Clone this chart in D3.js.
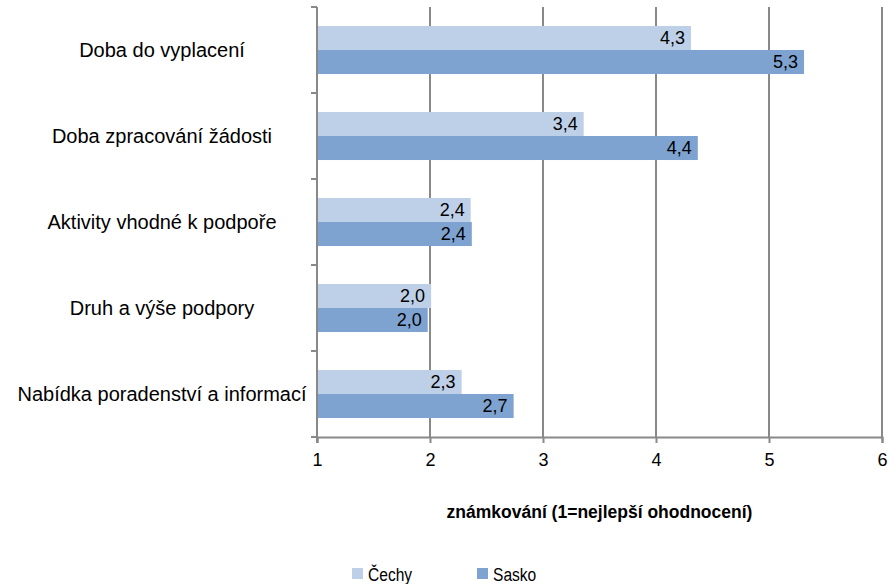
<!DOCTYPE html>
<html>
<head>
<meta charset="utf-8">
<script src="https://cdn.jsdelivr.net/npm/d3@7"></script>
<style>
  body { margin: 0; background: #fff; }
  svg text { font-family: "Liberation Sans", Arial, sans-serif; fill: #000; }
</style>
</head>
<body>
<div class="container"></div>
<script>
// data
var categories = ["Doba do vyplacení", "Doba zpracování žádosti", "Aktivity vhodné k podpoře",
                  "Druh a výše podpory", "Nabídka poradenství a informací"];
var cechy = [4.31, 3.36, 2.36, 2.01, 2.28];
var sasko = [5.31, 4.37, 2.37, 1.98, 2.74];
var seriesNames = ["Čechy", "Sasko"];
var xTicks = [1, 2, 3, 4, 5, 6];
var axisTitle = "známkování (1=nejlepší ohodnocení)";

var width = 888, height = 584;
var margin = {top: 7, right: 6, bottom: 147, left: 317};
var colors = ["#bed0e8", "#7ea3d1"];
var gridColor = "#898989";

var svg = d3.select("div.container").append("svg")
    .attr("width", width)
    .attr("height", height);

var x = d3.scaleLinear().domain([1, 6]).range([margin.left, width - margin.right]);
var y = d3.scaleBand().domain(categories).range([margin.top, height - margin.bottom]);
var inner = d3.scaleBand().domain(seriesNames).range([0, y.bandwidth()]).paddingOuter(0.79);

// vertical grid lines
svg.selectAll(".grid")
    .data(xTicks.slice(1))
    .enter().append("line")
    .attr("x1", function(d) { return x(d); })
    .attr("x2", function(d) { return x(d); })
    .attr("y1", margin.top)
    .attr("y2", height - margin.bottom)
    .attr("stroke", gridColor)
    .attr("stroke-width", 2);

// bars
var rows = categories.map(function(c, i) { return {cat: c, vals: [cechy[i], sasko[i]]}; });
var g = svg.selectAll(".row")
    .data(rows)
    .enter().append("g")
    .attr("transform", function(d) { return "translate(0," + y(d.cat) + ")"; });

g.selectAll("rect")
    .data(function(d) { return d.vals.map(function(v, j) { return {v: v, s: seriesNames[j], j: j}; }); })
    .enter().append("rect")
    .attr("x", x(1))
    .attr("y", function(d) { return inner(d.s); })
    .attr("width", function(d) { return x(d.v) - x(1); })
    .attr("height", inner.bandwidth())
    .attr("fill", function(d) { return colors[d.j]; });

g.selectAll("text.val")
    .data(function(d) { return d.vals.map(function(v, j) { return {v: v, s: seriesNames[j]}; }); })
    .enter().append("text")
    .attr("class", "val")
    .attr("x", function(d) { return x(d.v) - 6; })
    .attr("y", function(d) { return inner(d.s) + inner.bandwidth() / 2; })
    .attr("dy", "0.36em")
    .attr("text-anchor", "end")
    .style("font-size", "18px")
    .text(function(d) { return d3.format(".1f")(d.v).replace(".", ","); });

// category labels
svg.selectAll(".cat")
    .data(categories)
    .enter().append("text")
    .attr("x", 162)
    .attr("y", function(d) { return y(d) + y.bandwidth() / 2; })
    .attr("dy", "0.36em")
    .attr("text-anchor", "middle")
    .style("font-size", "20px")
    .text(function(d) { return d; });

// left axis
var yAxis = svg.append("g")
    .attr("transform", "translate(" + x(1) + ",0)");
yAxis.append("line")
    .attr("y1", margin.top).attr("y2", height - margin.bottom + 6)
    .attr("stroke", gridColor).attr("stroke-width", 2);
yAxis.selectAll(".tk")
    .data(categories.map(function(c) { return y(c); }).concat([height - margin.bottom]))
    .enter().append("line")
    .attr("x1", -6).attr("x2", 0)
    .attr("y1", function(d) { return d; }).attr("y2", function(d) { return d; })
    .attr("stroke", gridColor).attr("stroke-width", 2);

// bottom axis
var xAxis = svg.append("g")
    .attr("transform", "translate(0," + (height - margin.bottom) + ")")
    .call(d3.axisBottom(x).tickValues(xTicks).tickSize(6).tickPadding(10).tickFormat(d3.format("d")));
xAxis.select(".domain").attr("stroke", gridColor).attr("stroke-width", 2);
xAxis.selectAll(".tick line").attr("stroke", gridColor).attr("stroke-width", 2);
xAxis.selectAll(".tick text")
    .style("font-family", "Liberation Sans, Arial, sans-serif")
    .style("font-size", "18px")
    .attr("fill", "#000");

svg.append("text")
    .attr("x", (x(1) + x(6)) / 2)
    .attr("y", 518)
    .attr("text-anchor", "middle")
    .style("font-size", "17.5px")
    .style("font-weight", "bold")
    .text(axisTitle);

// legend
var legend = svg.selectAll(".leg")
    .data(seriesNames)
    .enter().append("g")
    .attr("transform", function(d, i) { return "translate(" + (352 + i * 125) + ",568)"; });
legend.append("rect")
    .attr("width", 11).attr("height", 11)
    .attr("fill", function(d, i) { return colors[i]; });
legend.append("text")
    .attr("transform", "translate(16,6) scale(0.82,1)")
    .attr("dy", "0.36em")
    .style("font-size", "19px")
    .text(function(d) { return d; });
</script>
</body>
</html>
